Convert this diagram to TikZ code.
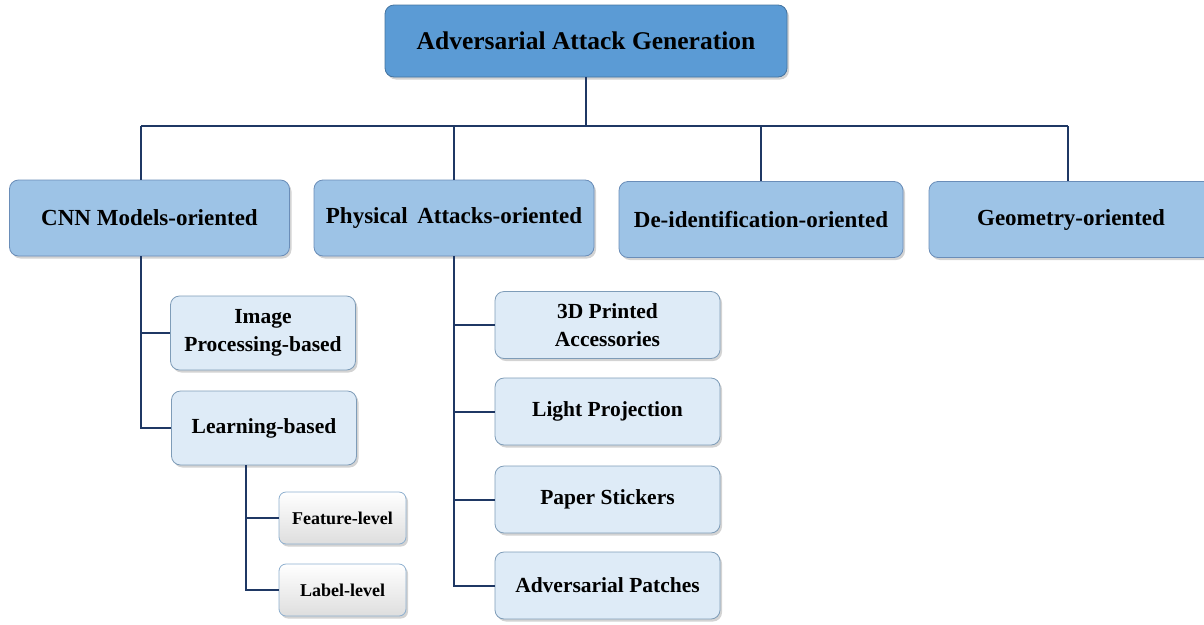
\documentclass[tikz,border=0pt]{standalone}
\usepackage{fontspec}
\setmainfont{Liberation Serif}
\usetikzlibrary{shadows}

\definecolor{rootblue}{HTML}{5B9BD5}
\definecolor{catblue}{HTML}{9DC3E6}
\definecolor{subblue}{HTML}{DEEBF7}
\definecolor{edgeblue}{HTML}{6A8DB8}
\definecolor{linknavy}{HTML}{1F3864}

\tikzset{
  box/.style={draw=edgeblue, line width=0.8pt, rounded corners=9pt, align=center,
    font=\bfseries, drop shadow={shadow xshift=2pt, shadow yshift=-2.5pt, opacity=0.35}},
  root/.style={box, fill=rootblue, draw=rootblue!75!black, minimum width=402pt,
    minimum height=72pt, font=\fontsize{25.5}{30}\selectfont\bfseries},
  catbox/.style={box, fill=catblue, minimum width=280pt, minimum height=76pt,
    font=\fontsize{23}{27}\selectfont\bfseries},
  subbox/.style={box, fill=subblue, draw=catblue!80!black, minimum width=185pt,
    minimum height=74pt, font=\fontsize{21.5}{28}\selectfont\bfseries},
  phybox/.style={subbox, minimum width=225pt, minimum height=67pt},
  leafbox/.style={box, top color=white, bottom color=black!13, draw=catblue!90!black,
    minimum width=127pt, minimum height=52pt, rounded corners=7pt,
    font=\fontsize{18}{21}\selectfont\bfseries},
  link/.style={draw=linknavy, line width=2pt}
}

\begin{document}
\begin{tikzpicture}[x=1pt, y=-1pt]
  \useasboundingbox (0,0) rectangle (1204,624);

  % top node
  \node[root] (gen) at (586,41) {Adversarial Attack Generation};

  % first level
  \node[catbox] (cnn) at (149.5,218) {CNN Models-oriented};
  \node[catbox] (phy) at (454,218) {Physical\, Attacks-oriented};
  \node[catbox, minimum width=284pt] (deid) at (761,219.5) {De-identification-oriented};
  \node[catbox, minimum width=284pt] (geo) at (1071,219.5) {Geometry-oriented};

  % bus
  \coordinate (bus) at (586,126);
  \draw[link] (gen.south) -- (bus);
  \draw[link] (141,126) -- (1068,126);
  \draw[link] (141,126) -- (141,180);
  \draw[link] (phy.north |- bus) -- (phy.north);
  \draw[link] (deid.north |- bus) -- (deid.north);
  \draw[link] (1068,126) -- (1068,181);

  % cnn branch
  \node[subbox] (img) at (263,333) {Image\\Processing-based};
  \node[subbox] (learn) at (264,428) {Learning-based};
  \coordinate (cnndown) at (141,256);
  \draw[link] (cnndown) |- (img.west);
  \draw[link] (cnndown) |- (learn.west);

  % learning leaves
  \node[leafbox] (feat) at (342.5,518) {Feature-level};
  \node[leafbox] (lab) at (342.5,590) {Label-level};
  \coordinate (learndown) at (246,465);
  \draw[link] (learndown) |- (feat.west);
  \draw[link] (learndown) |- (lab.west);

  % physical branch
  \node[phybox] (print) at (607.5,325) {3D Printed\\Accessories};
  \node[phybox] (light) at (607.5,411.5) {Light Projection};
  \node[phybox] (paper) at (607.5,499.5) {Paper Stickers};
  \node[phybox] (patch) at (607.5,585.5) {Adversarial Patches};
  \foreach \n in {print,light,paper,patch}
    \draw[link] (phy.south) |- (\n.west);
\end{tikzpicture}
\end{document}
